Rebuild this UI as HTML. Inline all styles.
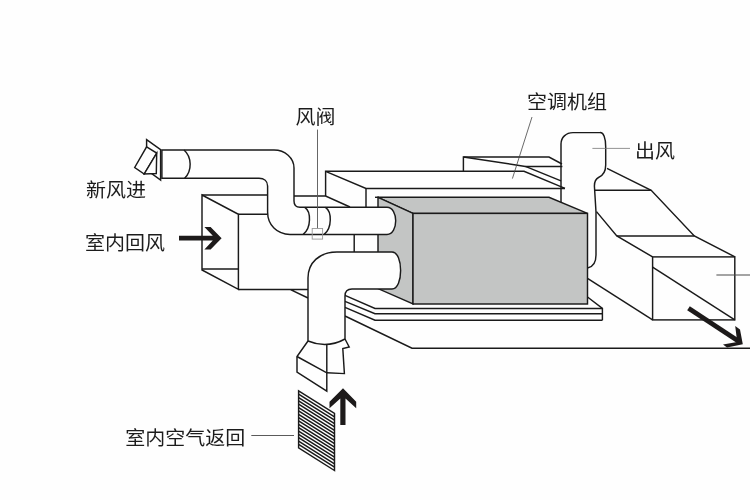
<!DOCTYPE html>
<html lang="zh-CN">
<head>
<meta charset="utf-8">
<title>新风系统示意图</title>
<style>
html,body{margin:0;padding:0;background:#fff;}
body{width:750px;height:500px;overflow:hidden;position:relative;font-family:"Liberation Sans","Noto Sans CJK SC",sans-serif;}
svg{position:absolute;left:0;top:0;display:block;will-change:transform;}
.l{fill:none;stroke:#1a1a1a;stroke-width:1.45;stroke-linejoin:miter;stroke-linecap:butt;}
.w{fill:#fefefe;stroke:#1a1a1a;stroke-width:1.45;stroke-linejoin:miter;}
.g{fill:#c3c5c4;stroke:#1a1a1a;stroke-width:1.45;stroke-linejoin:miter;}
.s{fill:none;stroke:#1a1a1a;stroke-width:1.5;}
.t{stroke:#777;stroke-width:0.8;fill:none;}
.a{fill:#1d1a1a;stroke:none;}
text{font-family:"Liberation Sans","Noto Sans CJK SC",sans-serif;font-size:20px;font-weight:400;fill:#1c1c1c;}
</style>
</head>
<body>
<svg width="750" height="500" viewBox="0 0 750 500">
<rect x="0" y="0" width="750" height="500" fill="#fefefe"/>

<!-- ground / base -->
<g id="base">
<path class="l" d="M345,316 L412,348.2 H750"/>
<path class="l" d="M345,295.3 L375,308.4 H602.4"/>
<path class="l" d="M345,301.3 L375,313.7 H602.4"/>
<path class="l" d="M345,307.3 L375,320.2 H602.4"/>
<path class="l" d="M587.5,297 L602.4,308.4 V320.2"/>
</g>


<!-- return air box -->
<g id="returnbox">
<path class="l" d="M202,195 H268 M238.4,214.3 H268 M238.4,289.4 H308 M290,289.4 L308,298"/>
<path class="l" d="M202,195 L238.4,214.3 V289.4 L202,270 Z"/>
<path class="l" d="M202,269 H238.4"/>
</g>

<!-- outlet transition -->
<g id="outlet">
<path class="l" d="M607,168.4 L651.2,190.3 L694.3,236 L735,256.9"/>
<path class="l" d="M594.4,190.3 H651.2"/>
<path class="l" d="M596.5,211.6 L616.8,236 L652.6,256.9"/>
<path class="l" d="M616.8,236 H694.3"/>
<rect class="l" x="652.6" y="256.9" width="82.2" height="63"/>
<path class="l" d="M652.6,267.2 L734.8,319.9"/>
<path class="l" d="M587.5,278.4 L652.6,319.9"/>
</g>

<!-- outlet duct -->
<path d="M561,205 V144 C561,137.5 566,132.6 573,132.6 H600 C603.5,132.4 605.7,138 605.7,147 V165 C605.7,172 602,176 598.5,177.5 C595.5,179 594.4,181.5 594.4,186 L596,212 V255 C596,262 593,267 587.5,268 V205 Z" fill="#fefefe"/>
<!-- platform behind -->
<g id="platform">
<path class="l" d="M463.4,171.3 V157 H549 L562,164"/>
<path class="l" d="M463.4,157 L525.4,166.4 H562.4"/>
<path class="l" d="M525.4,166.4 L561,180.8"/>
<path class="l" d="M325.6,196 V171.3 H524 L565,188.4"/>
<path class="l" d="M325.6,171.3 L366,188.4 H565"/>
<path class="l" d="M366,188.4 V207"/>
<path class="l" d="M294,196 H325.6 L350,207"/>
<path class="l" d="M354.2,234 V252"/>
</g>
<path class="l" d="M561,203 V144 C561,137.5 566,132.6 573,132.6 H600 C603.5,132.4 605.7,138 605.7,147 V165 C605.7,172 602,176 598.5,177.5 C595.5,179 594.4,181.5 594.4,186 L596,212 V255 C596,262 593,267 587.5,268"/>

<!-- AC unit -->
<g id="unit">
<path class="g" d="M378,197.3 H549 L587.5,213.4 H413 Z"/>
<path class="g" d="M378,197.3 L413,213.4 V304 L378,288.6 Z"/>
<path class="l" d="M375,197.3 H379"/>
<rect class="g" x="413" y="213.4" width="174.500" height="90.6"/>
</g>

<!-- fresh air duct -->
<g id="fresh">
<path class="l" d="M146.600,139.600 L160.600,149.700 V180 L146.600,169.800 Z"/>
<path class="w" d="M146.600,146.800 L156.700,153.100 L144.200,174 L134.700,167.500 Z"/>
<path class="w" d="M156.700,153.100 L156.300,173.500 L144.200,174 Z"/>
<path class="w" d="M161.900,150 H274 C285,150 294,158 294,168 V201 C294,204.8 296,207.3 300,207.3 H387 C398.6,207.3 398.6,234.400 387,234.400 H290 C277,234.400 267.600,225 267.600,212 V186 C267.600,181 264,178.300 259,178.300 H161.900 Z"/>
<path class="l" d="M184,150 C192,157 192.2,171 184.6,178.300"/>
<path class="l" d="M304.8,207.3 C311.2,211.5 311.4,228 303.2,234.400"/>
<path class="l" d="M325.4,207.3 C332,211.5 332.2,228 324.2,234.400"/>
</g>

<!-- lower return duct -->
<g id="lower">
<path class="w" d="M308,341 V278 C308,263 319,252 337,252 H392 C403.5,252 403.5,289 392,289 H352 C347.500,289 345,291.500 345,296 V339 Q327,349 308,341 Z"/>
<path class="l" d="M308,341 L297,356.500 V372 L326.800,391.200 V345"/>
<path class="l" d="M297,356.500 L326.800,372.800 L344.400,373.600 L342.800,348.500 L349.200,346.900 L345,339"/>
</g>

<!-- grille -->
<g id="grille">
<path class="l" d="M298.6,390.8 L334.5,413.5 V470.5 L298.6,447.8 Z"/>
<path class="s" d="M298.6,394.15 L334.5,416.85 M298.6,397.51 L334.5,420.21 M298.6,400.86 L334.5,423.56 M298.6,404.21 L334.5,426.91 M298.6,407.56 L334.5,430.26 M298.6,410.92 L334.5,433.62 M298.6,414.27 L334.5,436.97 M298.6,417.62 L334.5,440.32 M298.6,420.98 L334.5,443.68 M298.6,424.33 L334.5,447.03 M298.6,427.68 L334.5,450.38 M298.6,431.04 L334.5,453.74 M298.6,434.39 L334.5,457.09 M298.6,437.74 L334.5,460.44 M298.6,441.09 L334.5,463.79 M298.6,444.45 L334.5,467.15"/>
</g>

<!-- arrows -->
<path class="a" d="M179,235.800 H212.800 L204.400,227 H210.600 L221.600,238.200 L210.600,249.400 H204.400 L212.800,240.600 H179 Z"/>
<path class="a" d="M340.300,425 V398.500 L329.500,408.200 V401.700 L343,388.200 L356.200,401.700 V408.200 L345.500,398.500 V425 Z"/>
<path d="M688.5,308.2 L739,341.6" style="stroke:#1d1a1a;stroke-width:4.8;fill:none"/>
<path class="a" d="M735.2,326 L740,329.5 L742.8,344.2 L727,347.6 L723,344.6 L737.2,342 Z"/>

<!-- leader lines -->
<path class="t" d="M317.500,129.600 V228.400" style="stroke:#555;stroke-width:0.9"/>
<rect class="t" x="312.2" y="228.500" width="10.400" height="10.600" style="stroke:#999;stroke-width:0.9"/>
<path class="t" d="M532,117 L512.400,178.600" style="stroke:#444"/>
<path class="t" d="M592.400,148.400 H630"/>
<path class="t" d="M716.400,275 H750" style="stroke:#4a4a4a;stroke-width:1.1"/>
<path class="t" d="M251.300,435.5 H294" style="stroke:#5a5a5a;stroke-width:1"/>

<!-- labels -->
<text transform="translate(86,197.2) scale(1,0.95)">新风进</text>
<text transform="translate(85,249.8) scale(1,0.95)">室内回风</text>
<text transform="translate(295.5,123.6) scale(1,0.95)">风阀</text>
<text transform="translate(527,109) scale(1,0.95)">空调机组</text>
<text transform="translate(635,157.6) scale(1,0.95)">出风</text>
<text transform="translate(125.2,444.5) scale(1,0.95)">室内空气返回</text>
</svg>
</body>
</html>
